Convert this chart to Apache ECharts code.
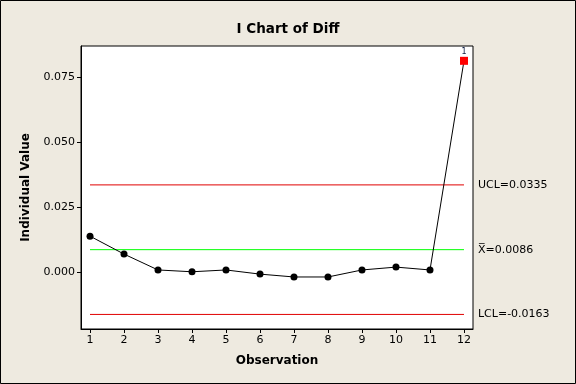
<!DOCTYPE html>
<html><head><meta charset="utf-8">
<script src="https://cdn.jsdelivr.net/npm/echarts@6/dist/echarts.min.js"></script>
<style>html,body{margin:0;padding:0;background:#eeeae0;}#c{width:576px;height:384px;}</style>
</head><body><div id="c"></div>
<script>
const observations = [1,2,3,4,5,6,7,8,9,10,11,12];
const diffValues = [0.0138,0.0069,0.0008,0.0001,0.0008,-0.0008,-0.0019,-0.0019,0.0008,0.0019,0.0008,0.0812];
const ucl = 0.0335, mean = 0.0086, lcl = -0.0163;
const limitLabels = ['UCL=0.0335', 'X\u0305=0.0086', 'LCL=-0.0163'];
const yTicks = [0, 0.025, 0.05, 0.075];
const outOfControl = [12];

const F = 'DejaVu Sans';
const chart = echarts.init(document.getElementById('c'));
const pts = observations.map((o,i)=>{
  const p = {value:[o, diffValues[i]]};
  if (outOfControl.includes(o)) {
    p.symbol='rect'; p.symbolSize=8; p.itemStyle={color:'#ff0000'};
    p.label={show:true, formatter:'1', position:'top', distance:1, fontSize:8, color:'#0a1a40', fontFamily:F};
  }
  return p;
});
function limitSeries(v, txt, color){
  return {type:'line', data:[[observations[0], v],[observations[observations.length-1], v]],
    symbol:'none', silent:true, z:1, lineStyle:{color, width:1, type:'solid'},
    endLabel:{show:true, formatter:txt, distance:14, color:'#000', fontSize:11, fontFamily:F}};
}
chart.setOption({
  animation:false,
  backgroundColor:'#eeeae0',
  title:{text:'I Chart of Diff', left:'center', top:17, textStyle:{fontFamily:F, fontSize:13.5, fontWeight:'bold', color:'#000'}},
  grid:{left:81, right:103, top:46, bottom:55, show:true, backgroundColor:'#fff', borderColor:'#000', borderWidth:1},
  xAxis:{type:'value', min:0.735, max:12.265, name:'Observation', nameLocation:'middle', nameGap:26,
    nameTextStyle:{fontFamily:F, fontSize:12, fontWeight:'bold', color:'#000'},
    axisLine:{onZero:false, lineStyle:{color:'#000'}}, splitLine:{show:false},
    axisTick:{customValues:observations, length:4, lineStyle:{color:'#000'}},
    axisLabel:{customValues:observations, color:'#000', fontFamily:F, fontSize:11, margin:6}},
  yAxis:{type:'value', min:-0.0219, max:0.0869, name:'Individual Value', nameLocation:'middle', nameGap:49,
    nameTextStyle:{fontFamily:F, fontSize:12, fontWeight:'bold', color:'#000'},
    axisLine:{show:true, onZero:false, lineStyle:{color:'#000'}}, splitLine:{show:false},
    axisTick:{show:true, customValues:yTicks, length:4, lineStyle:{color:'#000'}},
    axisLabel:{customValues:yTicks, color:'#000', fontFamily:F, fontSize:11, margin:6, formatter:v=>v.toFixed(3)}},
  series:[
    limitSeries(ucl, limitLabels[0], '#e00000'),
    limitSeries(mean, limitLabels[1], '#00ff00'),
    limitSeries(lcl, limitLabels[2], '#e00000'),
    {type:'line', data:pts, symbol:'circle', symbolSize:7, z:3, itemStyle:{color:'#000'},
     lineStyle:{color:'#000', width:1}}
  ],
  graphic:[{type:'rect', shape:{x:0.5,y:0.5,width:575,height:383}, style:{fill:null, stroke:'#000', lineWidth:1}}]
});
</script></body></html>
